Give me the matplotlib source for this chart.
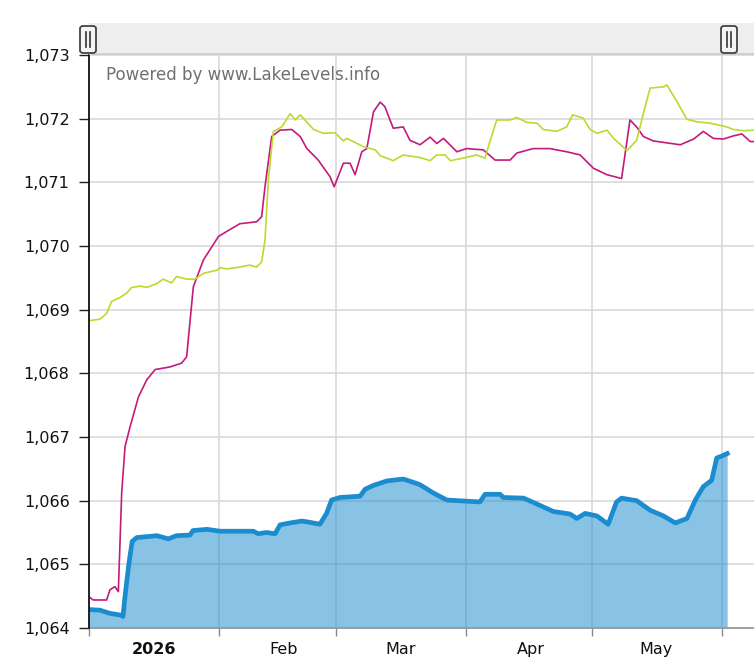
import numpy as np
import pandas as pd
import matplotlib
matplotlib.use("Agg")
import matplotlib.pyplot as plt
from matplotlib.patches import Rectangle, FancyBboxPatch

start = pd.Timestamp("2026-01-01")

# day offsets from Jan 1 2026 and lake levels (ft)
blue_days = [0.0, 2.6, 5.0, 7.8, 8.1, 8.6, 9.5, 10.3, 11.4, 16.2, 18.9, 20.9, 24.1, 24.8, 28.1,
             31.3, 39.2, 40.4, 42.4, 44.4, 45.6, 48.0, 50.8, 52.7, 55.1, 56.7, 57.9, 59.9, 64.7,
             65.9, 67.9, 71.1, 75.0, 78.2, 79.0, 82.2, 85.4, 93.3, 94.5, 98.1, 98.9, 103.7, 106.8,
             110.8, 114.8, 116.4, 118.4, 121.2, 123.9, 125.9, 127.1, 130.7, 133.9, 137.1, 139.9,
             142.7, 144.7, 146.6, 148.6, 149.8, 151.0, 152.3]
blue_vals = [1064.29, 1064.28, 1064.23, 1064.20, 1064.18, 1064.50, 1065.00, 1065.36, 1065.42,
             1065.45, 1065.40, 1065.45, 1065.46, 1065.53, 1065.55, 1065.52, 1065.52, 1065.48,
             1065.50, 1065.48, 1065.62, 1065.65, 1065.68, 1065.66, 1065.63, 1065.80, 1066.01,
             1066.05, 1066.07, 1066.18, 1066.24, 1066.31, 1066.34, 1066.27, 1066.25, 1066.12,
             1066.01, 1065.98, 1066.10, 1066.10, 1066.05, 1066.04, 1065.95, 1065.83, 1065.79,
             1065.72, 1065.80, 1065.76, 1065.63, 1065.98, 1066.04, 1066.00, 1065.85, 1065.76,
             1065.65, 1065.72, 1066.01, 1066.22, 1066.32, 1066.67, 1066.70, 1066.74]

magenta_days = [0.2, 1.0, 4.2, 5.0, 6.2, 7.0, 7.8, 8.6, 9.8, 11.8, 13.8, 15.8, 19.3, 22.1, 23.3,
                24.9, 27.3, 30.9, 32.9, 36.0, 40.0, 41.2, 42.0, 43.6, 45.6, 48.4, 50.4, 52.0,
                54.7, 57.5, 58.5, 60.7, 62.3, 63.5, 65.1, 66.3, 67.9, 69.5, 70.6, 72.6, 75.0,
                76.6, 79.0, 81.4, 83.0, 84.6, 87.8, 90.1, 94.1, 96.9, 100.5, 102.1, 106.0, 110.0,
                114.0, 117.2, 120.4, 123.6, 127.1, 129.1, 130.7, 132.3, 134.7, 141.1, 144.3,
                146.6, 149.0, 151.4, 153.8, 155.8, 157.8, 158.8]
magenta_vals = [1064.48, 1064.44, 1064.44, 1064.60, 1064.65, 1064.57, 1066.12, 1066.85, 1067.16,
                1067.63, 1067.90, 1068.06, 1068.10, 1068.16, 1068.26, 1069.36, 1069.78, 1070.15,
                1070.23, 1070.35, 1070.38, 1070.46, 1070.93, 1071.72, 1071.82, 1071.83, 1071.72,
                1071.53, 1071.35, 1071.09, 1070.93, 1071.30, 1071.30, 1071.12, 1071.48, 1071.53,
                1072.11, 1072.26, 1072.19, 1071.85, 1071.87, 1071.66, 1071.59, 1071.71, 1071.61,
                1071.69, 1071.48, 1071.53, 1071.51, 1071.35, 1071.35, 1071.46, 1071.53, 1071.53,
                1071.48, 1071.43, 1071.22, 1071.12, 1071.06, 1071.98, 1071.87, 1071.72, 1071.65,
                1071.59, 1071.68, 1071.80, 1071.69, 1071.68, 1071.73, 1071.76, 1071.64, 1071.64]

green_days = [0.2, 2.6, 4.2, 5.4, 7.4, 9.0, 10.2, 12.2, 13.8, 16.2, 17.7, 19.7, 20.9, 23.3, 25.3,
              27.3, 30.5, 31.3, 32.9, 36.0, 38.4, 40.0, 41.2, 42.0, 42.8, 44.0, 46.0, 48.0, 49.2,
              50.4, 53.6, 55.9, 58.7, 60.7, 61.5, 65.5, 68.3, 69.5, 72.6, 75.0, 79.0, 81.4, 83.0,
              85.0, 86.2, 89.3, 92.5, 94.5, 95.3, 97.3, 100.5, 102.1, 104.5, 106.9, 108.4, 111.6,
              114.0, 115.4, 117.9, 119.6, 121.2, 123.6, 125.2, 128.4, 130.7, 132.3, 133.9, 137.1,
              137.9, 140.3, 142.7, 145.1, 148.2, 152.2, 153.8, 156.2, 158.8]
green_vals = [1068.83, 1068.85, 1068.94, 1069.13, 1069.19, 1069.26, 1069.35, 1069.37, 1069.35,
              1069.41, 1069.48, 1069.42, 1069.52, 1069.48, 1069.48, 1069.57, 1069.62, 1069.66,
              1069.64, 1069.67, 1069.70, 1069.67, 1069.75, 1070.09, 1071.04, 1071.80, 1071.87,
              1072.08, 1071.98, 1072.06, 1071.83, 1071.77, 1071.78, 1071.65, 1071.69, 1071.56,
              1071.51, 1071.42, 1071.34, 1071.43, 1071.39, 1071.34, 1071.43, 1071.43, 1071.34,
              1071.38, 1071.43, 1071.38, 1071.56, 1071.98, 1071.98, 1072.02, 1071.94, 1071.93,
              1071.83, 1071.80, 1071.87, 1072.06, 1072.01, 1071.83, 1071.77, 1071.82, 1071.69,
              1071.50, 1071.66, 1072.08, 1072.48, 1072.50, 1072.53, 1072.27, 1071.99, 1071.95,
              1071.93, 1071.87, 1071.83, 1071.81, 1071.82]

month_labels = ["2026", "Feb", "Mar", "Apr", "May"]
y_ticks = [1064, 1065, 1066, 1067, 1068, 1069, 1070, 1071, 1072, 1073]
view_end_days = 158.7


def to_dates(days):
    return start + pd.to_timedelta(np.array(days), unit="D")


fig = plt.figure(figsize=(7.54, 6.61), dpi=100)
ax = fig.add_axes([89 / 754, 1 - 628 / 661, 1 - 89 / 754, (628 - 55) / 661])

blue_c = "#1b8dcf"
ax.fill_between(to_dates(blue_days), blue_vals, 1064, color=blue_c, alpha=0.52, lw=0, zorder=2)
ax.plot(to_dates(blue_days), blue_vals, color=blue_c, lw=3.4, zorder=4, solid_joinstyle="round")
ax.plot(to_dates(magenta_days), magenta_vals, color="#c41a7c", lw=1.2, zorder=3)
ax.plot(to_dates(green_days), green_vals, color="#bcd92e", lw=1.2, zorder=3)

ax.set_ylim(1064, 1073)
ax.set_xlim(start, start + pd.Timedelta(days=view_end_days))

ax.set_yticks(y_ticks)
ax.set_yticklabels([f"{v:,}" for v in y_ticks])

# month boundaries get ticks + grid, labels sit mid-month
month_starts = pd.date_range("2026-01-01", "2026-06-01", freq="MS")
mids = [m + pd.Timedelta(days=15.4) for m in month_starts[:-1]]
ax.set_xticks(month_starts)
ax.set_xticklabels([])
ax.set_xticks(mids, minor=True)
ax.set_xticklabels(month_labels, minor=True)
for lbl in ax.get_xticklabels(minor=True):
    if lbl.get_text() == "2026":
        lbl.set_fontweight("bold")

ax.grid(True, which="major", color="#d6d6d6", lw=1.1, zorder=0)
ax.set_axisbelow(True)
ax.tick_params(axis="y", length=7, width=1, color="#222222", pad=7, labelsize=11.5, labelcolor="#111111")
ax.tick_params(axis="x", which="major", length=6, width=1, color="#888888")
ax.tick_params(axis="x", which="minor", length=0, pad=10, labelsize=11.5, labelcolor="#111111")

for side in ["top", "right"]:
    ax.spines[side].set_visible(False)
ax.spines["left"].set_color("#111111")
ax.spines["left"].set_linewidth(1.3)
ax.spines["bottom"].set_color("#999999")
ax.spines["bottom"].set_linewidth(1.3)
ax.spines["left"].set_zorder(6)

fig.text(106 / 754, 1 - 75 / 661, "Powered by www.LakeLevels.info", color="#707070",
         fontsize=12, va="center", ha="left")

# scrollbar on top
fig.patches.append(Rectangle((89 / 754, 1 - 54 / 661), 1 - 89 / 754, 31 / 661,
                             transform=fig.transFigure, facecolor="#eeeeee", edgecolor="none"))
fig.patches.append(Rectangle((89 / 754, 1 - 55 / 661), 1 - 89 / 754, 1.5 / 661,
                             transform=fig.transFigure, facecolor="#cfcfcf", edgecolor="none"))
for hx in [80, 721]:
    fig.patches.append(FancyBboxPatch((hx / 754, 1 - 53 / 661), 16 / 754, 27 / 661,
                                      boxstyle="round,pad=0,rounding_size=0.004",
                                      transform=fig.transFigure, facecolor="#f4f4f4",
                                      edgecolor="#444444", lw=1.3))
    for lx in [hx + 6, hx + 10]:
        fig.lines.append(plt.Line2D([lx / 754, lx / 754], [1 - 47 / 661, 1 - 32 / 661],
                                    transform=fig.transFigure, color="#333333", lw=1.2))

fig.savefig("out.png", dpi=100)
